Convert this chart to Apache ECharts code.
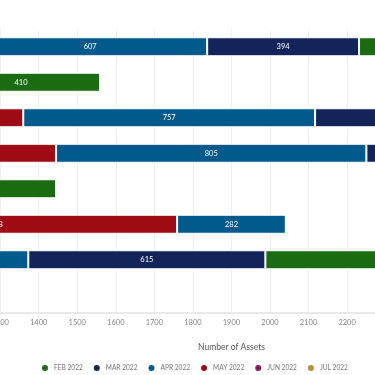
<!DOCTYPE html>
<html>
<head>
<meta charset="utf-8">
<script src="https://cdn.jsdelivr.net/npm/echarts@6/dist/echarts.min.js"></script>
<style>
  html, body { margin: 0; padding: 0; width: 375px; height: 375px; overflow: hidden; background: #fff; }
  /* the reference is a zoomed-in slice of a wider chart, so the chart is wider than the window */
  #chart { position: absolute; left: -551px; top: 0; width: 1565px; height: 375px; }
</style>
</head>
<body>
<div id="chart"></div>
<script>
// categories, top to bottom
const categories = ['Group 1', 'Group 2', 'Group 3', 'Group 4', 'Group 5', 'Group 6', 'Group 7', 'Group 8'];

const legendNames = ['FEB 2022', 'MAR 2022', 'APR 2022', 'MAY 2022', 'JUN 2022', 'JUL 2022'];

// series values (stacked left to right: JUL, JUN, MAY, APR, MAR, FEB)
const jul2022 = [120, 90, 140, 160, 90, 221, 120, 80];
const jun2022 = [310, 260, 380, 405, 230, 600, 303, 200];
const may2022 = [800, 420, 840, 880, 380, 938, 500, 300];
const apr2022 = [607, 229, 757, 805, 200, 282, 450, 250];
const mar2022 = [394, 150, 450, 300, 125, 0, 615, 150];
const feb2022 = [420, 410, 300, 250, 420, 0, 700, 200];

const colors = {
  'FEB 2022': '#1a6b12',
  'MAR 2022': '#13245a',
  'APR 2022': '#005a8c',
  'MAY 2022': '#9e0b14',
  'JUN 2022': '#8b1a5c',
  'JUL 2022': '#b8903e',
};

const stackOrder = [
  ['JUL 2022', jul2022],
  ['JUN 2022', jun2022],
  ['MAY 2022', may2022],
  ['APR 2022', apr2022],
  ['MAR 2022', mar2022],
  ['FEB 2022', feb2022],
];

const chart = echarts.init(document.getElementById('chart'));

chart.setOption({
  animation: false,
  textStyle: { fontFamily: 'Lato' },
  legend: {
    data: legendNames,
    left: 586,
    top: 358,
    icon: 'circle',
    itemWidth: 8,
    itemHeight: 8,
    itemGap: 9,
    textStyle: { fontSize: 6.6, color: '#777' },
  },
  grid: {
    left: 50,
    top: 29,
    width: 1464.9,
    height: 284,
  },
  xAxis: {
    type: 'value',
    min: 0,
    max: 3800,
    interval: 100,
    name: 'Number of Assets',
    nameLocation: 'middle',
    nameGap: 30,
    nameTextStyle: { fontSize: 8.5, color: '#555' },
    axisLine: { show: true, lineStyle: { color: '#e2e2e2', width: 1.5 } },
    axisTick: { show: false },
    axisLabel: { fontSize: 7.5, color: '#888', margin: 6, formatter: (v) => String(v) },
    splitLine: { lineStyle: { color: '#f0f0f0' } },
  },
  yAxis: {
    type: 'category',
    data: categories,
    inverse: true,
    axisLine: { show: false },
    axisTick: { show: false },
    axisLabel: { fontSize: 8, color: '#777' },
  },
  series: stackOrder.map(([name, values]) => ({
    name,
    type: 'bar',
    stack: 'total',
    data: values,
    barWidth: 19,
    itemStyle: { color: colors[name], borderColor: '#fff', borderWidth: 1 },
    label: {
      show: true,
      position: 'inside',
      color: '#fff',
      fontSize: 7.5,
      formatter: (p) => (p.value ? p.value : ''),
    },
  })),
});
</script>
</body>
</html>
